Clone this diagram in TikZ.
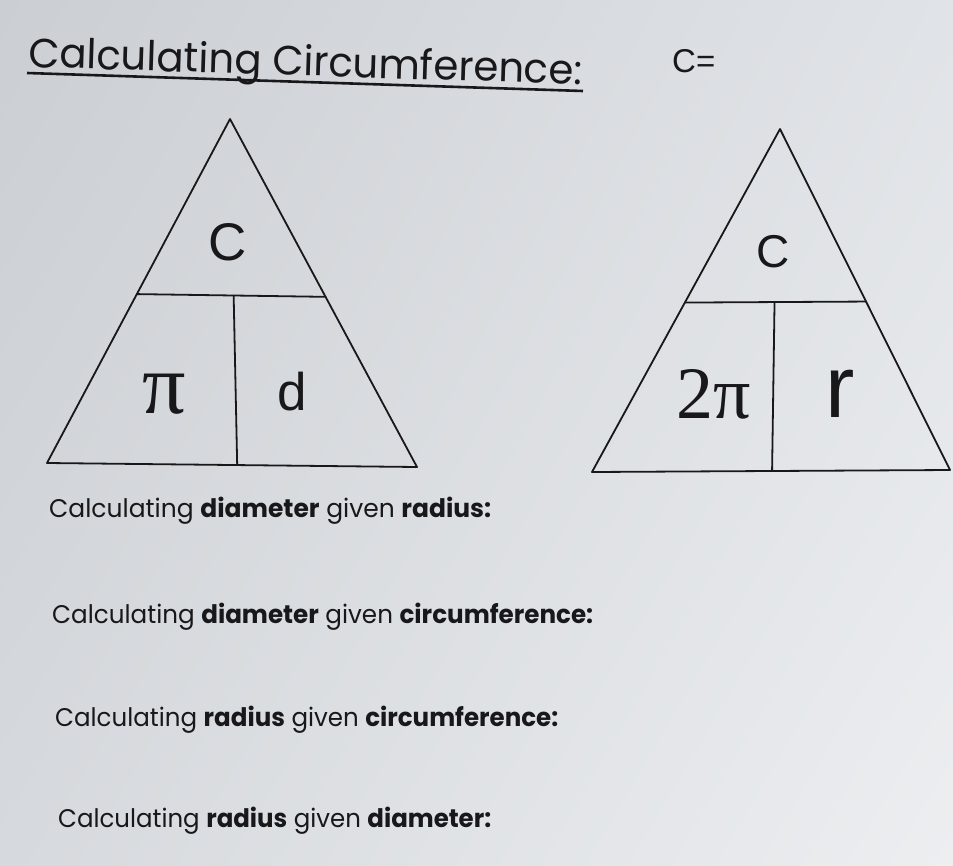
\documentclass[tikz,border=0pt]{standalone}
\usepackage{graphicx}
\usepackage{fontspec}
\usetikzlibrary{calc,shadings}
\setmainfont{Poppins}
\newfontfamily\sansf{Liberation Sans}
\newfontfamily\seriff{Liberation Serif}
\definecolor{ink}{RGB}{24,24,26}
\definecolor{bgUL}{RGB}{203,206,210}
\definecolor{bgUR}{RGB}{224,227,231}
\definecolor{bgLL}{RGB}{214,217,221}
\definecolor{bgLR}{RGB}{236,238,240}
\newcommand{\fitw}[2]{\resizebox{#1}{\height}{#2}}
\tikzset{
  rule/.style={draw=ink, line width=1.8pt, line cap=round, line join=round},
  worktext/.style={anchor=base west, inner sep=0pt, text=ink, font=\fontsize{25.5}{26}\selectfont},
  trilabel/.style={anchor=base, inner sep=0pt, text=ink}
}
\begin{document}
\begin{tikzpicture}[x=1pt,y=-1pt]
\shade[upper left=bgUL, upper right=bgUR, lower left=bgLL, lower right=bgLR] (0,0) rectangle (953,865);
\useasboundingbox (0,0) rectangle (953,865);

% title
\node[anchor=base west, inner sep=0pt, text=ink, rotate=-1.8, font=\fontsize{41}{41}\selectfont] (title) at (28,67) {\fitw{554pt}{Calculating Circumference:}};
\coordinate (ulA) at (27,73);
\coordinate (ulB) at (583,91);
\draw[draw=ink, line width=2.6pt] (ulA) -- (ulB);
\node[anchor=base west, inner sep=0pt, text=ink, font=\sansf\fontsize{33}{33}\selectfont] (ceq) at (672,72) {C=};

% left triangle
\coordinate (A1) at (230,119);
\coordinate (L1) at (47,463);
\coordinate (R1) at (417,467);
\coordinate (H1l) at ($(A1)!0.509!(L1)$);
\coordinate (H1r) at ($(A1)!0.511!(R1)$);
\coordinate (V1t) at ($(H1l)!0.513!(H1r)$);
\coordinate (V1b) at ($(L1)!0.514!(R1)$);
\draw[rule] (A1) -- (L1) -- (R1) -- cycle;
\draw[rule] (H1l) -- (H1r);
\draw[rule] (V1t) -- (V1b);
\node[trilabel, font=\sansf\fontsize{53}{53}\selectfont] (c1) at (228,260) {C};
\node[trilabel, font=\seriff\fontsize{86}{86}\selectfont] (pi1) at (164,413) {π};
\node[trilabel, font=\sansf\fontsize{53}{53}\selectfont] (d1) at (292,410) {d};

% right triangle
\coordinate (A2) at (780,129);
\coordinate (L2) at (592,472);
\coordinate (R2) at (950,470);
\coordinate (H2l) at ($(A2)!0.506!(L2)$);
\coordinate (H2r) at ($(A2)!0.506!(R2)$);
\coordinate (V2t) at ($(H2l)!0.495!(H2r)$);
\coordinate (V2b) at ($(L2)!0.503!(R2)$);
\draw[rule] (A2) -- (L2) -- (R2) -- cycle;
\draw[rule] (H2l) -- (H2r);
\draw[rule] (V2t) -- (V2b);
\node[trilabel, font=\sansf\fontsize{46}{46}\selectfont] (c2) at (773,267) {C};
\node[trilabel, font=\seriff\fontsize{74}{74}\selectfont] (pi2) at (714,418) {2π};
\node[trilabel, font=\sansf\fontsize{88}{88}\selectfont] (r2) at (840,417) {r};

% questions
\node[worktext] (q1) at (49,517) {\fitw{442pt}{Calculating \textbf{diameter} given \textbf{radius:}}};
\node[worktext] (q2) at (52,623) {\fitw{541pt}{Calculating \textbf{diameter} given \textbf{circumference:}}};
\node[worktext] (q3) at (55,726) {\fitw{503pt}{Calculating \textbf{radius} given \textbf{circumference:}}};
\node[worktext] (q4) at (58,827) {\fitw{433pt}{Calculating \textbf{radius} given \textbf{diameter:}}};
\end{tikzpicture}
\end{document}
